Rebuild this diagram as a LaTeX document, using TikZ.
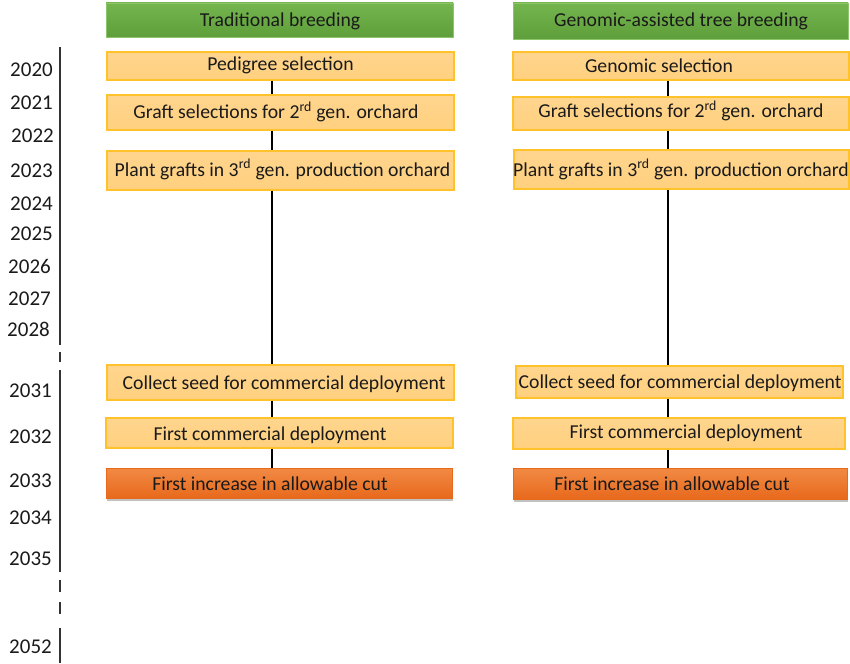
\documentclass[tikz,border=0pt]{standalone}
\usepackage{fontspec}
\setmainfont{Carlito}
\usetikzlibrary{shadows,calc}
\definecolor{hdrtop}{HTML}{74B54E}
\definecolor{hdrbot}{HTML}{5E9F3B}
\definecolor{hdrline}{HTML}{8DC56B}
\definecolor{lttop}{HTML}{FFD58E}
\definecolor{ltbot}{HTML}{FFD07E}
\definecolor{ltline}{HTML}{FFC22A}
\definecolor{ortop}{HTML}{F18A45}
\definecolor{orbot}{HTML}{E8691C}
\definecolor{txt}{HTML}{1A1A1A}
\tikzset{
  hdrbox/.style={draw=hdrline, line width=0.8pt, top color=hdrtop, bottom color=hdrbot, inner sep=0pt},
  ltbox/.style={draw=ltline, line width=1.2pt, top color=lttop, bottom color=ltbot, inner sep=0pt},
  orbox/.style={draw=orbot, line width=0.5pt, top color=ortop, bottom color=orbot, inner sep=0pt,
     drop shadow={shadow xshift=1pt, shadow yshift=-2.5pt, opacity=0.35, fill=black!70}},
  lbl/.style={font=\fontsize{19.7}{21}\selectfont, text=txt, anchor=base, inner sep=0pt},
  yr/.style={font=\fontsize{21}{22}\selectfont, text=txt, anchor=base east, inner sep=0pt},
  conn/.style={line width=2pt, black},
  axis/.style={line width=1.2pt, black!80},
}
\newcommand{\boxat}[7]{% name, style, x1, y1, x2, y2, (unused)
  \node[#2, minimum width={#5-#3}, minimum height={#6-#4}] (#1) at ({(#3+#5)/2},{(#4+#6)/2}) {};}
\begin{document}
\begin{tikzpicture}[x=1pt,y=-1pt]
\useasboundingbox (0,0) rectangle (850,663);

% time axis
\coordinate (a0) at (60,47);
\coordinate (a1) at (60,345);
\coordinate (a2) at (60,352);
\coordinate (a3) at (60,362);
\coordinate (a4) at (60,370);
\coordinate (a5) at (60,572);
\coordinate (a6) at (60,580);
\coordinate (a7) at (60,592);
\coordinate (a8) at (60,602);
\coordinate (a9) at (60,614);
\coordinate (a10) at (60,628);
\coordinate (a11) at (60,663);
\draw[axis] (a0) -- (a1);
\draw[axis] (a2) -- (a3);
\draw[axis] (a4) -- (a5);
\draw[axis] (a6) -- (a7);
\draw[axis] (a8) -- (a9);
\draw[axis] (a10) -- (a11);

% years
\node[yr] (y2020) at (53,77) {2020};
\node[yr] (y2021) at (53,110) {2021};
\node[yr] (y2022) at (54,143) {2022};
\node[yr] (y2023) at (53,177) {2023};
\node[yr] (y2024) at (53,210) {2024};
\node[yr] (y2025) at (53,240) {2025};
\node[yr] (y2026) at (51,273) {2026};
\node[yr] (y2027) at (51,305) {2027};
\node[yr] (y2028) at (50,336) {2028};
\node[yr] (y2031) at (52,397) {2031};
\node[yr] (y2032) at (52,443) {2032};
\node[yr] (y2033) at (52,487) {2033};
\node[yr] (y2034) at (52,524) {2034};
\node[yr] (y2035) at (52,565) {2035};
\node[yr] (y2052) at (52,653) {2052};

% left column boxes
\boxat{Lh}{hdrbox}{106}{3}{453}{37}{}
\boxat{L1}{ltbox}{107}{52}{454}{80}{}
\boxat{L2}{ltbox}{107}{95}{454}{130}{}
\boxat{L3}{ltbox}{107}{151}{454}{190}{}
\boxat{L4}{ltbox}{107}{365}{454}{400}{}
\boxat{L5}{ltbox}{106}{418}{453}{448}{}
\boxat{L6}{orbox}{106}{468}{452}{498}{}

% right column boxes
\boxat{Rh}{hdrbox}{513}{3}{848}{39}{}
\boxat{R1}{ltbox}{513}{52}{849}{80}{}
\boxat{R2}{ltbox}{513}{97}{849}{130}{}
\boxat{R3}{ltbox}{514}{150}{849}{189}{}
\boxat{R4}{ltbox}{516}{366}{843}{398}{}
\boxat{R5}{ltbox}{513}{418}{845}{449}{}
\boxat{R6}{orbox}{513}{468}{847}{499}{}

% connectors
\coordinate (cl) at (272,0);
\coordinate (cr) at (668,0);
\foreach \a/\b in {L1/L2,L2/L3,L3/L4,L4/L5,L5/L6}{
  \draw[conn] (\a.south -| cl) -- (\b.north -| cl);}
\foreach \a/\b in {R1/R2,R2/R3,R3/R4,R4/R5,R5/R6}{
  \draw[conn] (\a.south -| cr) -- (\b.north -| cr);}

% left texts
\node[lbl] (tLh) at (280,27) {Traditional breeding};
\node[lbl] (tL1) at (280.5,71) {Pedigree selection};
\node[lbl] (tL2) at (276,119) {Graft selections for 2\textsuperscript{rd} gen. orchard};
\node[lbl] (tL3) at (282.5,176) {Plant grafts in 3\textsuperscript{rd} gen. production orchard};
\node[lbl] (tL4) at (284,389) {Collect seed for commercial deployment};
\node[lbl] (tL5) at (270,440) {First commercial deployment};
\node[lbl] (tL6) at (270,490) {First increase in allowable cut};

% right texts
\node[lbl] (tRh) at (681,27) {Genomic-assisted tree breeding};
\node[lbl] (tR1) at (659,73) {Genomic selection};
\node[lbl] (tR2) at (681,118) {Graft selections for 2\textsuperscript{rd} gen. orchard};
\node[lbl] (tR3) at (681,176) {Plant grafts in 3\textsuperscript{rd} gen. production orchard};
\node[lbl] (tR4) at (680,388) {Collect seed for commercial deployment};
\node[lbl] (tR5) at (686,438) {First commercial deployment};
\node[lbl] (tR6) at (672,490) {First increase in allowable cut};
\end{tikzpicture}
\end{document}
